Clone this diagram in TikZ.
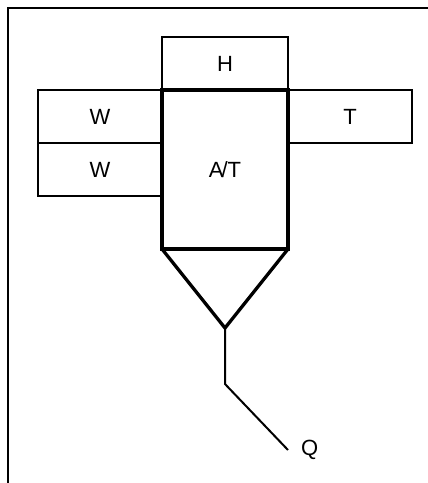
\documentclass[tikz,border=0pt]{standalone}
\usepackage{fontspec}
\setmainfont{Liberation Sans}
\usetikzlibrary{positioning}
\tikzset{
  cell/.style={draw,line width=2pt,outer sep=0pt,minimum width=124pt,minimum height=53pt,inner sep=0pt},
  core/.style={cell,line width=3.3pt,minimum width=126pt,minimum height=159pt},
}
\begin{document}
\begin{tikzpicture}[x=1pt,y=-1pt,font=\fontsize{22}{26}\selectfont]
\useasboundingbox (0,0) rectangle (428,483);
% frame
\draw[line width=2pt] (8,483) -- (8,8) -- (428,8);
% main body
\node[core] (at) at (225,169.5) {A\kern-2pt/T};
\node[cell,minimum width=126pt,anchor=south] (h) at (at.north) {H};
\node[cell,anchor=north east] (w1) at (at.north west) {W};
\node[cell,anchor=north east] (w2) at (w1.south east) {W};
\node[cell,anchor=north west] (t) at (at.north east) {T};
% funnel and outlet
\coordinate (tip) at (225,328);
\draw[line width=3.3pt,line join=miter] (at.south west) -- (tip) -- (at.south east);
\coordinate (bend) at (225,384);
\coordinate (qend) at (288,450);
\node[right=13pt of qend,inner sep=0pt] (q) {Q};
\draw[line width=2pt] (tip) -- (bend) -- (qend);
\end{tikzpicture}
\end{document}
